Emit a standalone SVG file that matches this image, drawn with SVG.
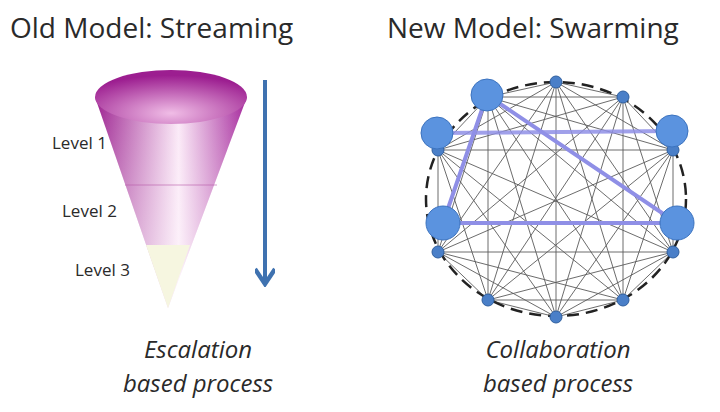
<svg xmlns="http://www.w3.org/2000/svg" width="720" height="412" viewBox="0 0 720 412">
<style>
.t{font-family:"Open Sans","Liberation Sans",sans-serif;fill:#2a2a2a}
.h{font-size:28px}
.l{font-size:17px}
.i{font-size:24px;font-style:italic;text-anchor:middle}
.e{stroke:#333;stroke-width:0.9;opacity:0.8}
.s{fill:#4a7fc8;stroke:#2f5f9f;stroke-width:1}
.b{fill:#5b93df;stroke:#3c73bf;stroke-width:1}
.p{stroke:#8f8fe6;stroke-width:4;fill:none}
</style>
<defs>
<linearGradient id="cone" x1="0" y1="0" x2="1" y2="0">
<stop offset="0" stop-color="#9b1f8f"/><stop offset="0.55" stop-color="#fbe9f7"/><stop offset="1" stop-color="#a3249a"/>
</linearGradient>
<linearGradient id="conev" x1="0" y1="0" x2="0" y2="1">
<stop offset="0" stop-color="#fff" stop-opacity="0"/><stop offset="1" stop-color="#fff" stop-opacity="0.5"/>
</linearGradient>
<radialGradient id="top" cx="0.5" cy="0.8" r="0.7">
<stop offset="0" stop-color="#f0bde6"/><stop offset="1" stop-color="#9c1e90"/>
</radialGradient>
<marker id="ah" viewBox="0 0 10 10" refX="8" refY="5" markerWidth="5" markerHeight="5" orient="auto">
<path d="M1,0 L8.5,5 L1,10" fill="none" stroke="#3f72b0" stroke-width="2.2"/>
</marker>
</defs>
<text class="t h" x="10" y="38">Old Model: Streaming</text>
<text class="t h" x="387" y="38">New Model: Swarming</text>
<g id="funnel">
<path d="M95,97 L168,308 L247,97 Z" fill="url(#cone)"/>
<path d="M95,97 L168,308 L247,97 Z" fill="url(#conev)"/>
<path d="M146,245 L168,308 L190,245 Z" fill="#f6f6e0"/>
<path d="M125,185 L217,185" stroke="#b85aa9" stroke-width="1" opacity="0.6"/>
<ellipse cx="171" cy="97" rx="76" ry="27" fill="url(#top)"/>
<text class="t l" x="52" y="149">Level 1</text>
<text class="t l" x="62" y="217">Level 2</text>
<text class="t l" x="75" y="276">Level 3</text>
</g>
<g id="arrow"><line x1="265" y1="80" x2="265" y2="283" stroke="#3f72b0" stroke-width="4" marker-end="url(#ah)"/></g>
<ellipse cx="556" cy="199" rx="130" ry="117" fill="none" stroke="#222" stroke-width="2.5" stroke-dasharray="12,7"/>
<g id="edges">
<path class="e" d="M556,82L623,97M556,82L673,150M556,82L673,252M556,82L623,300M556,82L556,317M556,82L488,300M556,82L438,252M556,82L438,150M556,82L488,97
M623,97L673,150M623,97L673,252M623,97L623,300M623,97L556,317M623,97L488,300M623,97L438,252M623,97L438,150M623,97L488,97
M673,150L673,252M673,150L623,300M673,150L556,317M673,150L488,300M673,150L438,252M673,150L438,150M673,150L488,97
M673,252L623,300M673,252L556,317M673,252L488,300M673,252L438,252M673,252L438,150M673,252L488,97
M623,300L556,317M623,300L488,300M623,300L438,252M623,300L438,150M623,300L488,97
M556,317L488,300M556,317L438,252M556,317L438,150M556,317L488,97
M488,300L438,252M488,300L438,150M488,300L488,97
M438,252L438,150M438,252L488,97
M438,150L488,97"/>
<path class="p" d="M487,95L443,223L677,223Z"/>
<path class="p" d="M437,133L672,131" opacity="0.85"/>
</g>
<g id="nodes">
<circle class="s" cx="556" cy="82" r="6"/><circle class="s" cx="623" cy="97" r="6"/>
<circle class="s" cx="673" cy="150" r="6"/><circle class="s" cx="673" cy="252" r="6"/>
<circle class="s" cx="623" cy="300" r="6"/><circle class="s" cx="556" cy="317" r="6"/>
<circle class="s" cx="488" cy="300" r="6"/><circle class="s" cx="438" cy="252" r="6"/>
<circle class="s" cx="438" cy="150" r="6"/><circle class="s" cx="488" cy="97" r="6"/>
<circle class="b" cx="487" cy="95" r="16"/><circle class="b" cx="437" cy="133" r="16"/>
<circle class="b" cx="443" cy="223" r="17"/><circle class="b" cx="672" cy="131" r="16"/>
<circle class="b" cx="677" cy="223" r="17"/>
</g>
<text class="t i" x="198" y="358">Escalation</text>
<text class="t i" x="198" y="392">based process</text>
<text class="t i" x="558" y="358">Collaboration</text>
<text class="t i" x="558" y="392">based process</text>
</svg>
